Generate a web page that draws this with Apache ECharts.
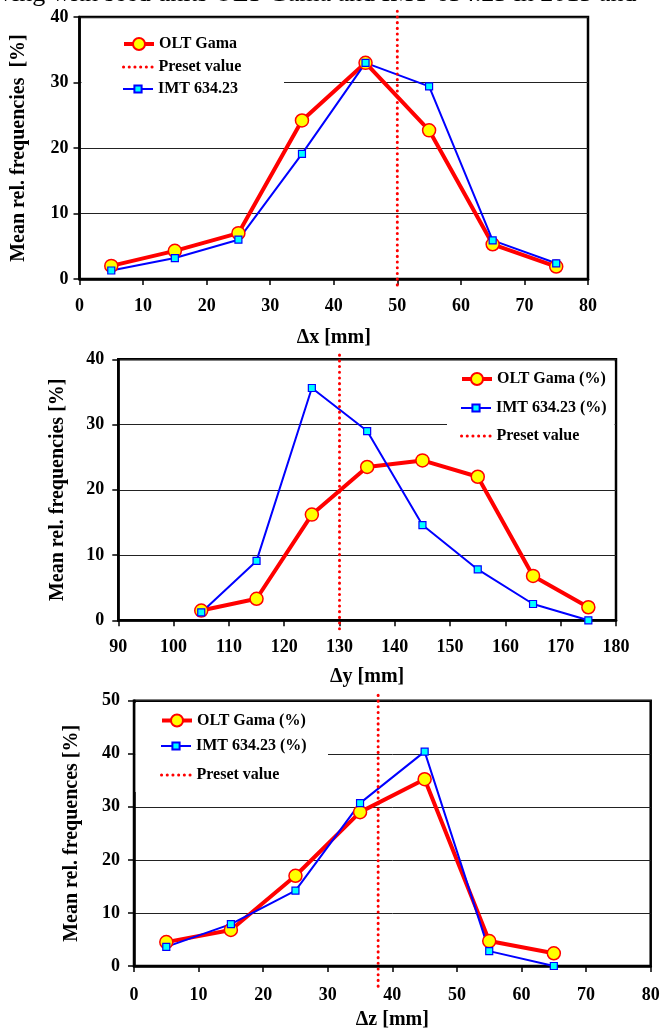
<!DOCTYPE html>
<html>
<head>
<meta charset="utf-8">
<script src="https://cdn.jsdelivr.net/npm/echarts@6/dist/echarts.min.js"></script>
<style>
html, body { margin: 0; padding: 0; background: #fff; }
#chart { width: 662px; height: 1033px; }
</style>
</head>
<body>
<div id="chart"></div>
<script>
// Δx panel
const binsX = [5, 15, 25, 35, 45, 55, 65, 75]
const oltX = [2.0, 4.3, 7.0, 24.2, 33.0, 22.7, 5.3, 1.9]
const imtX = [1.3, 3.2, 6.0, 19.1, 33.0, 29.4, 5.9, 2.4]
// Δy panel
const binsY = [105, 115, 125, 135, 145, 155, 165, 175]
const oltY = [1.5, 3.3, 16.2, 23.5, 24.5, 22.0, 6.8, 2.0]
const imtY = [1.2, 9.1, 35.6, 29.0, 14.6, 7.8, 2.5, 0]
// Δz panel
const binsZ = [5, 15, 25, 35, 45, 55, 65]
const oltZ = [4.5, 6.8, 17.0, 29.0, 35.2, 4.7, 2.4]
const imtZ = [3.6, 7.9, 14.2, 30.7, 40.4, 2.8, 0]
// preset values (mm)
const presetValues = [50, 130, 37.8]

const serif = 'Liberation Serif'
const zip = (xs, ys) => xs.map((x, i) => [x, ys[i]])

// panel layout: box = [left, top, width, height]
// legend rows: center y of OLT / IMT / Preset entries, legend box = white patch behind it
const panels = [
    { box: [79.5, 17, 508.5, 262], x: [0, 80], y: [40], xName: 'Δx [mm]', yName: 'Mean rel. frequencies  [%]',
        xGap: 49, yGap: 51, xMargin: 18, yMargin: 11, over: [0.9, 1.6],
        names: ['OLT Gama', 'IMT 634.23'], iconLeft: 122, rows: [44, 89, 67],
        legendBox: [81.5, 19.5, 202.5, 80] },
    { box: [118.3, 359.3, 497.7, 261], x: [90, 180], y: [40], xName: 'Δy [mm]', yName: 'Mean rel. frequencies [%]',
        xGap: 47, yGap: 50, xMargin: 18, yMargin: 14, over: [1.3, 1.4],
        names: ['OLT Gama (%)', 'IMT 634.23 (%)'], iconLeft: 460, rows: [379, 408, 436],
        legendBox: [447, 362, 167.5, 88] },
    { box: [134, 700.7, 516.7, 265.3], x: [0, 80], y: [50], xName: 'Δz [mm]', yName: 'Mean rel. frequences [%]',
        xGap: 44, yGap: 52, xMargin: 20, yMargin: 14, over: [3.8, 1.4],
        names: ['OLT Gama (%)', 'IMT 634.23 (%)'], iconLeft: 160, rows: [720.5, 746, 775],
        legendBox: [135.5, 703, 192.5, 89] }
]
const oltData = [zip(binsX, oltX), zip(binsY, oltY), zip(binsZ, oltZ)]
const imtData = [zip(binsX, imtX), zip(binsY, imtY), zip(binsZ, imtZ)]

const oltLine = { color: '#ff0000', width: 4 }
const imtLine = { color: '#0000ff', width: 2 }
const presetLine = { color: '#ff0000', width: 3, type: [0.1, 5.6], cap: 'round' }

const grid = [], xAxis = [], yAxis = [], legend = [], series = []
const graphic = [{
    type: 'text', left: -1, top: -19,
    style: { text: 'ving with seed units OLT Gama and IMT 634.23 in 2015 and', font: '26px "Liberation Serif"', fill: '#000' }
}]

const legendText = { color: '#000', fontFamily: serif, fontWeight: 'bold', fontSize: 16 }
// one legend per entry so each icon can keep its own symbol size
const legendItem = (name, left, center, h, extra) => Object.assign({
    orient: 'vertical', left: left, top: center - 8, padding: 0,
    itemWidth: 30, itemHeight: h, textStyle: legendText, data: [name]
}, extra)

panels.forEach((p, i) => {
    grid.push({
        left: p.box[0], top: p.box[1], width: p.box[2], height: p.box[3],
        show: true, borderColor: '#000', borderWidth: 2.5,
        outerBoundsMode: 'none'
    })
    xAxis.push({
        type: 'value', gridIndex: i, min: p.x[0], max: p.x[1], interval: 10,
        name: p.xName, nameLocation: 'middle', nameGap: p.xGap,
        nameTextStyle: { color: '#000', fontFamily: serif, fontWeight: 'bold', fontSize: 20 },
        axisLine: { show: true, onZero: false, lineStyle: { color: '#000', width: 2.5 } },
        axisTick: { show: true, length: 6, lineStyle: { color: '#000', width: 1.5 } },
        axisLabel: { color: '#000', fontFamily: serif, fontWeight: 'bold', fontSize: 18, margin: p.xMargin },
        splitLine: { show: false }
    })
    yAxis.push({
        type: 'value', gridIndex: i, min: 0, max: p.y[0], interval: 10,
        name: p.yName, nameLocation: 'middle', nameGap: p.yGap,
        nameTextStyle: { color: '#000', fontFamily: serif, fontWeight: 'bold', fontSize: 20 },
        axisLine: { show: true, lineStyle: { color: '#000', width: 2.5 } },
        axisTick: { show: true, length: 6, lineStyle: { color: '#000', width: 1.5 } },
        axisLabel: { color: '#000', fontFamily: serif, fontWeight: 'bold', fontSize: 18, margin: p.yMargin },
        splitLine: { show: true, lineStyle: { color: '#222', width: 1 } }
    })

    // white patch behind the legend (hides the grid line as in the original)
    graphic.push({
        type: 'rect', z: 1, silent: true,
        shape: { x: p.legendBox[0], y: p.legendBox[1], width: p.legendBox[2], height: p.legendBox[3] },
        style: { fill: '#fff' }
    })
    legend.push(legendItem(p.names[0], p.iconLeft, p.rows[0], 15, { lineStyle: oltLine }))
    legend.push(legendItem(p.names[1], p.iconLeft, p.rows[1], 9, { lineStyle: imtLine }))
    legend.push(legendItem('Preset value', p.iconLeft, p.rows[2], 9, { itemStyle: { opacity: 0 }, lineStyle: presetLine }))

    series.push({
        name: p.names[0], type: 'line', xAxisIndex: i, yAxisIndex: i,
        data: oltData[i], symbol: 'circle', symbolSize: 13,
        lineStyle: oltLine,
        itemStyle: { color: '#ffff00', borderColor: '#ff0000', borderWidth: 1.5 }
    })
    series.push({
        name: p.names[1], type: 'line', xAxisIndex: i, yAxisIndex: i,
        data: imtData[i], symbol: 'rect', symbolSize: 7,
        lineStyle: imtLine,
        itemStyle: { color: '#00ffff', borderColor: '#0000ff', borderWidth: 1.2 }
    })
    // dotted preset line, slightly overhanging the plot frame
    series.push({
        name: 'Preset value', type: 'line', xAxisIndex: i, yAxisIndex: i, clip: false,
        data: [[presetValues[i], -p.over[0]], [presetValues[i], p.y[0] + p.over[1]]],
        symbol: 'none', silent: true, z: 3,
        lineStyle: presetLine,
        itemStyle: { color: '#ff0000' }
    })
})

const chart = echarts.init(document.getElementById('chart'))
chart.setOption({
    animation: false,
    backgroundColor: '#fff',
    graphic, grid, xAxis, yAxis, legend, series
})
</script>
</body>
</html>
